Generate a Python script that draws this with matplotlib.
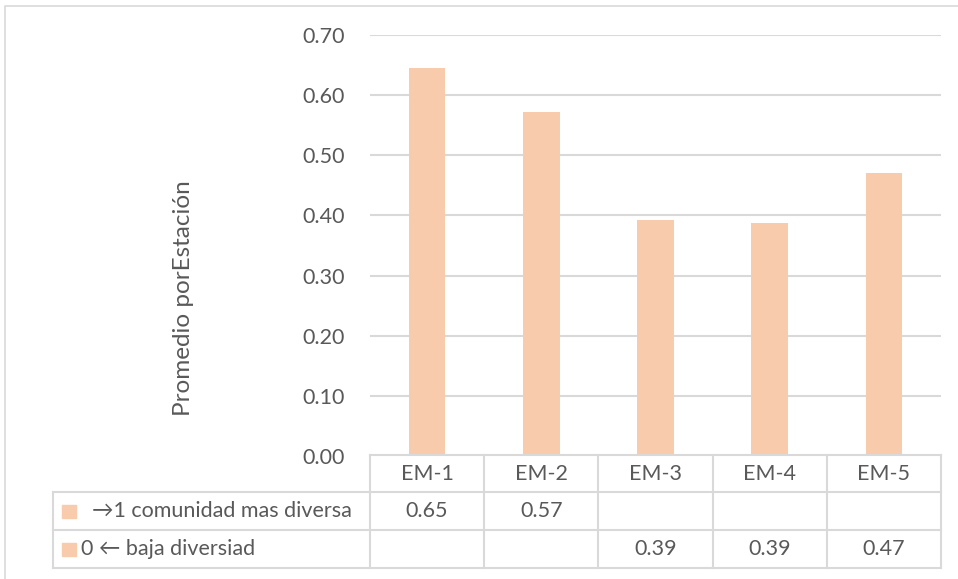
import matplotlib.pyplot as plt
from matplotlib.lines import Line2D
from matplotlib.patches import Rectangle
from matplotlib.transforms import blended_transform_factory
import numpy as np

plt.rcParams['font.family'] = ['Lato', 'DejaVu Sans']

estaciones = ['EM-1', 'EM-2', 'EM-3', 'EM-4', 'EM-5']
serie_alta = [0.645, 0.572, np.nan, np.nan, np.nan]   # ->1 comunidad mas diversa
serie_baja = [np.nan, np.nan, 0.392, 0.388, 0.470]    # 0 <- baja diversiad
nombres = ['\u21921 comunidad mas diversa', '0 \u2190 baja diversiad']
yticks = [0.0, 0.1, 0.2, 0.3, 0.4, 0.5, 0.6, 0.7]

W, H = 958, 579
color_barra = '#F8CBAD'
gris = '#D9D9D9'
texto = '#595959'
fs = 15.5

fig = plt.figure(figsize=(W / 100, H / 100), dpi=100)

def fx(px):
    return px / W

def fy(py):
    return 1 - py / H

ax = fig.add_axes([fx(370), fy(456), fx(941) - fx(370), fy(35) - fy(456)])
x = np.arange(len(estaciones))
ax.bar(x, serie_alta, width=0.32, color=color_barra, zorder=3)
ax.bar(x, serie_baja, width=0.32, color=color_barra, zorder=3)
ax.set_xlim(-0.5, len(estaciones) - 0.5)
ax.set_ylim(0, 0.7)
ax.set_yticks(yticks)
ax.set_yticklabels([f'{v:.2f}' for v in yticks])
ax.set_xticks([])
ax.tick_params(axis='y', length=0, pad=18, labelsize=fs, labelcolor=texto)
ax.grid(axis='y', color=gris, linewidth=1.5, zorder=0)
for s in ax.spines.values():
    s.set_visible(False)

fig.text(fx(183), fy(298), 'Promedio porEstación', rotation=90, ha='center',
         va='center', fontsize=17.5, color=texto)

# data table below the plot
tr = blended_transform_factory(ax.transData, fig.transFigure)
y_rows = [fy(455), fy(492), fy(530), fy(568)]
lw = 1.5
fig.add_artist(Line2D([-0.5, 4.5], [y_rows[0]] * 2, transform=tr, color=gris, lw=lw))
for yy in y_rows[1:]:
    fig.add_artist(Line2D([fx(53), fx(941)], [yy, yy], transform=fig.transFigure,
                          color=gris, lw=lw))
fig.add_artist(Line2D([fx(53), fx(53)], [y_rows[1], y_rows[3]], transform=fig.transFigure,
                      color=gris, lw=lw))
for b in np.arange(-0.5, len(estaciones)):
    fig.add_artist(Line2D([b, b], [y_rows[0], y_rows[3]], transform=tr, color=gris, lw=lw))

for i, est in enumerate(estaciones):
    fig.text(i, (y_rows[0] + y_rows[1]) / 2, est, transform=tr, ha='center',
             va='center', fontsize=fs, color=texto)
    for r, serie in enumerate([serie_alta, serie_baja]):
        if not np.isnan(serie[i]):
            fig.text(i, (y_rows[r + 1] + y_rows[r + 2]) / 2, f'{serie[i]:.2f}',
                     transform=tr, ha='center', va='center', fontsize=fs, color=texto)

# legend keys in the row headers
x_txt = [92, 81]
for r, nombre in enumerate(nombres):
    yc = (y_rows[r + 1] + y_rows[r + 2]) / 2
    fig.add_artist(Rectangle((fx(62), yc - 6.5 / H), 14 / W, 13 / H,
                             transform=fig.transFigure, color=color_barra))
    fig.text(fx(x_txt[r]), yc, nombre, ha='left', va='center', fontsize=fs, color=texto)

# chart border
fig.add_artist(Line2D([fx(5), fx(5), 1.0], [0.0, fy(6), fy(6)],
                      transform=fig.transFigure, color=gris, lw=1.2))

fig.savefig('out.png', dpi=100)
